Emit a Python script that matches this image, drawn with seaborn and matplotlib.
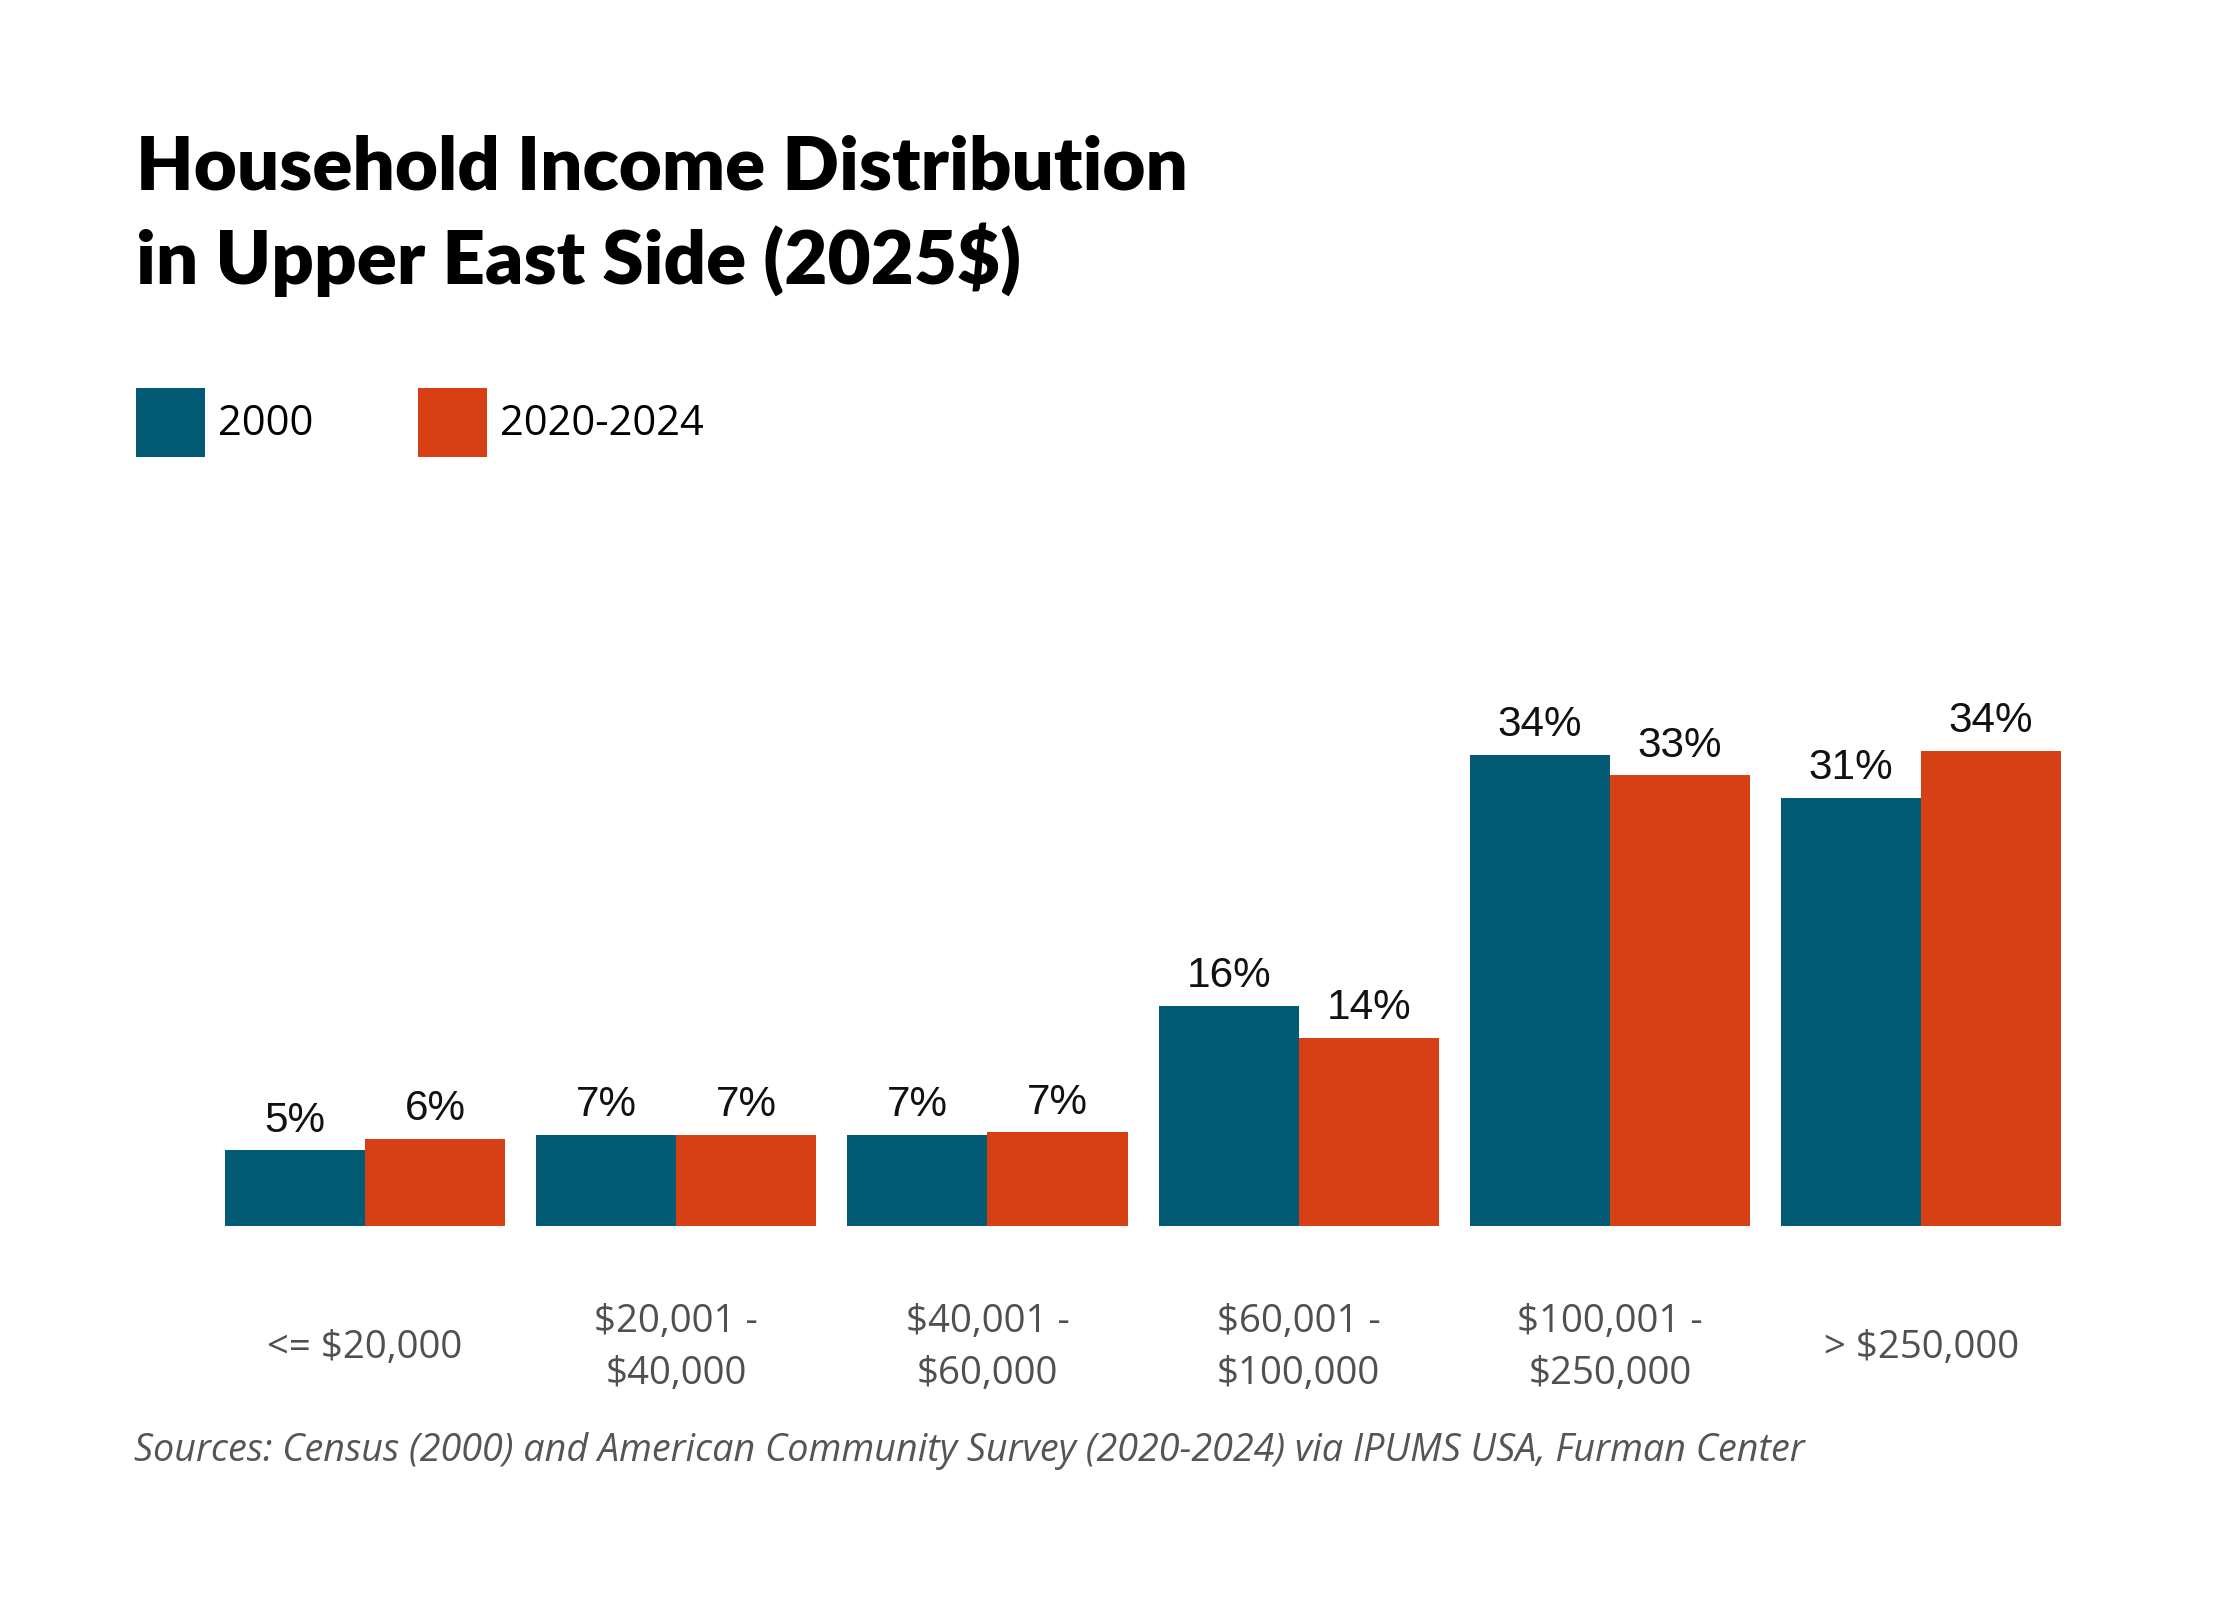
import pandas as pd
import seaborn as sns
import matplotlib.pyplot as plt
from matplotlib.patches import Rectangle

# Values (share of households, %)
brackets = ["<= $20,000", "$20,001 -\n$40,000", "$40,001 -\n$60,000",
            "$60,001 -\n$100,000", "$100,001 -\n$250,000", "> $250,000"]
share_2000 = [5.45, 6.55, 6.55, 15.9, 34.1, 31.0]
share_2024 = [6.3, 6.55, 6.75, 13.6, 32.6, 34.4]
periods = ["2000", "2020-2024"]
colors = ["#025a75", "#d64014"]

df = pd.DataFrame({
    "bracket": brackets * 2,
    "share": share_2000 + share_2024,
    "period": [periods[0]] * len(brackets) + [periods[1]] * len(brackets),
})

sns.set_theme(style="white")
plt.rcParams["font.family"] = ["Open Sans", "DejaVu Sans"]

fig = plt.figure(figsize=(11.2, 8), dpi=200)
ax = fig.add_axes([0.0935, 0.2340, 0.8336, 0.4194])

sns.barplot(data=df, x="bracket", y="share", hue="period", palette=colors,
            width=0.9, saturation=1, linewidth=0, ax=ax, legend=False)

ax.set_xlim(-0.5, 5.5)
ax.set_ylim(0, 48.6)
sns.despine(ax=ax, left=True, bottom=True)
ax.set_yticks([])
ax.set_xlabel("")
ax.set_ylabel("")
ax.tick_params(axis="x", length=0, pad=44)
for lbl in ax.get_xticklabels():
    lbl.set_verticalalignment("center")
    lbl.set_fontsize(13.8)
    lbl.set_color("#505050")
    lbl.set_linespacing(1.48)

# value labels above each bar
for cont in ax.containers:
    ax.bar_label(cont, labels=[f"{v:.0f}%" for v in cont.datavalues],
                 padding=3.5, fontsize=15.2, family="Liberation Sans", color="#111111")

# legend: coloured squares with labels
for x_sq, x_txt, c, lab in zip([0.0609, 0.1866], [0.0975, 0.2231], colors, periods):
    fig.patches.append(Rectangle((x_sq, 0.7146), 0.0308, 0.0431, transform=fig.transFigure,
                                 facecolor=c, edgecolor="none"))
    fig.text(x_txt, 0.7352, lab, fontsize=15, color="black", va="center")

fig.text(0.0607, 0.8815, "Household Income Distribution", fontsize=26.8,
         fontweight="heavy", family="Lato", color="black", va="baseline")
fig.text(0.0607, 0.8225, "in Upper East Side (2025$)", fontsize=26.8,
         fontweight="heavy", family="Lato", color="black", va="baseline")

fig.text(0.0598, 0.0932,
         "Sources: Census (2000) and American Community Survey (2020-2024) via IPUMS USA, Furman Center",
         fontsize=13.6, style="italic", color="#555555", va="center")

fig.savefig("out.png", dpi=200, facecolor="white")
